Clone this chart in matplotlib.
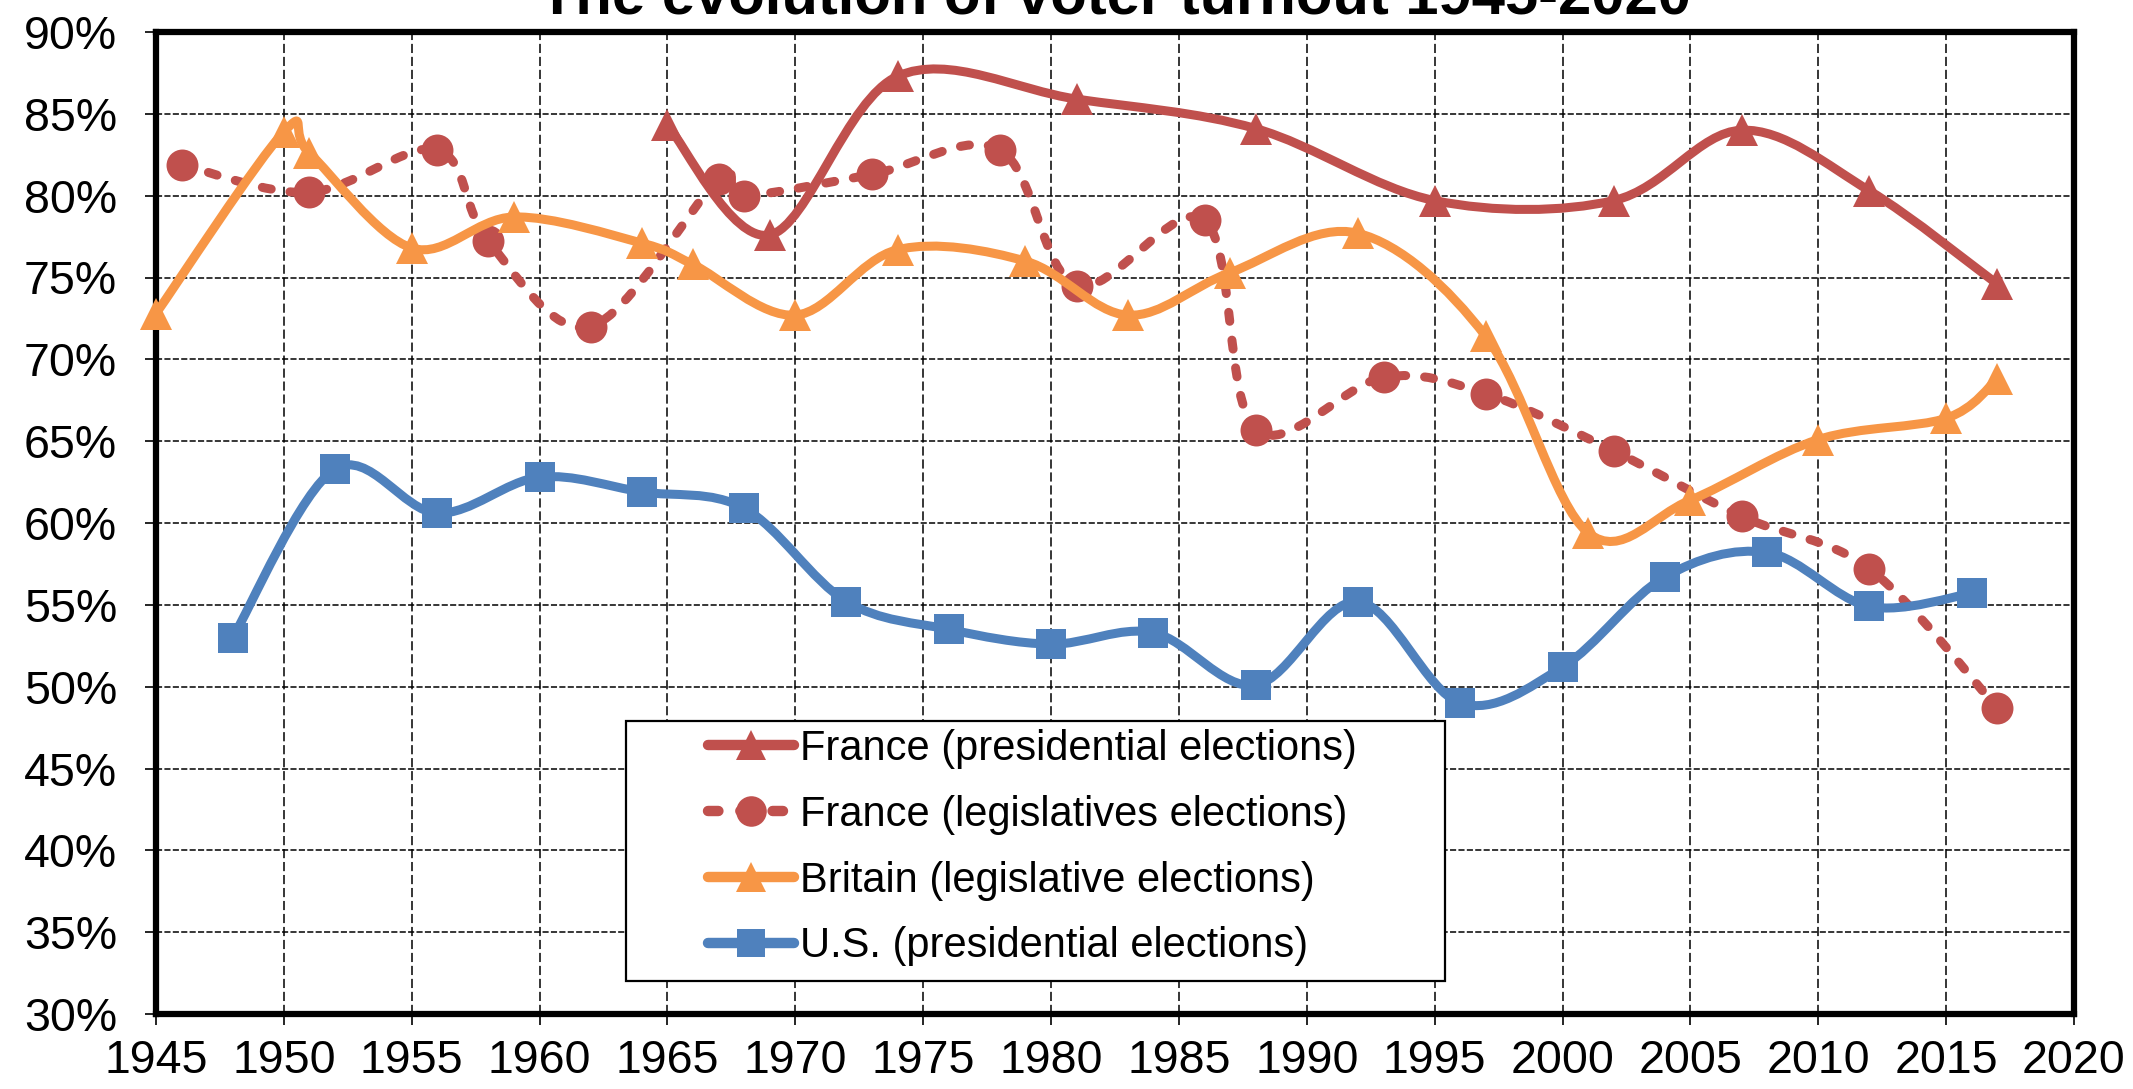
import numpy as np
import matplotlib
matplotlib.use("Agg")
import matplotlib.pyplot as plt
from matplotlib.path import Path
from matplotlib.patches import PathPatch, Rectangle
from matplotlib.lines import Line2D
from matplotlib.ticker import FuncFormatter, MultipleLocator

plt.rcParams['font.family'] = ['Liberation Sans', 'DejaVu Sans']

# ---------------- data ----------------
fr_pres_years = [1965, 1969, 1974, 1981, 1988, 1995, 2002, 2007, 2012, 2017]
fr_pres_vals = [84.3, 77.6, 87.3, 85.9, 84.1, 79.7, 79.7, 84.0, 80.3, 74.6]

fr_leg_years = [1946, 1951, 1956, 1958, 1962, 1967, 1968, 1973, 1978, 1981,
                1986, 1988, 1993, 1997, 2002, 2007, 2012, 2017]
fr_leg_vals = [81.9, 80.2, 82.8, 77.2, 72.0, 81.0, 80.0, 81.3, 82.8, 74.5,
               78.5, 65.7, 68.9, 67.9, 64.4, 60.4, 57.2, 48.7]

uk_years = [1945, 1950, 1951, 1955, 1959, 1964, 1966, 1970, 1974, 1979,
            1983, 1987, 1992, 1997, 2001, 2005, 2010, 2015, 2017]
uk_vals = [72.8, 83.9, 82.6, 76.8, 78.7, 77.1, 75.8, 72.7, 76.7, 76.0,
           72.7, 75.3, 77.7, 71.4, 59.4, 61.4, 65.1, 66.4, 68.8]

us_years = [1948, 1952, 1956, 1960, 1964, 1968, 1972, 1976, 1980, 1984,
            1988, 1992, 1996, 2000, 2004, 2008, 2012, 2016]
us_vals = [53.0, 63.3, 60.6, 62.8, 61.9, 60.9, 55.2, 53.5, 52.6, 53.3,
           50.1, 55.2, 49.0, 51.2, 56.7, 58.2, 54.9, 55.7]

labels = ["France (presidential elections)", "France (legislatives elections)",
          "Britain (legislative elections)", "U.S. (presidential elections)"]
title = "The evolution of voter turnout 1945-2020"

RED = "#C0504D"
ORANGE = "#F79646"
BLUE = "#4F81BD"

W, H = 2133, 1089
fig = plt.figure(figsize=(W / 100, H / 100), dpi=100)
L, R, T, B = 156, 2074, 32, 1014
ax = fig.add_axes([L / W, 1 - B / H, (R - L) / W, (B - T) / H])


def smooth_path(x, y, t=1.0 / 6.0):
    pts = np.column_stack([x, y]).astype(float)
    n = len(pts)
    verts = [pts[0]]
    codes = [Path.MOVETO]
    for i in range(n - 1):
        p0 = pts[i - 1] if i > 0 else pts[i]
        p1 = pts[i]
        p2 = pts[i + 1]
        p3 = pts[i + 2] if i + 2 < n else pts[i + 1]
        c1 = p1 + (p2 - p0) * t
        c2 = p2 - (p3 - p1) * t
        verts += [c1, c2, p2]
        codes += [Path.CURVE4] * 3
    return Path(verts, codes)


LW = 6.5
DASH = (0, (1.0, 2.1))

series = [
    (fr_pres_years, fr_pres_vals, RED, '^', '-', 23),
    (fr_leg_years, fr_leg_vals, RED, 'o', DASH, 23),
    (uk_years, uk_vals, ORANGE, '^', '-', 23),
    (us_years, us_vals, BLUE, 's', '-', 21.5),
]

z = 3
for xs, ys, col, mk, ls, ms in series:
    pp = PathPatch(smooth_path(xs, ys), fill=False, edgecolor=col, lw=LW,
                   linestyle=ls, capstyle='round', joinstyle='round',
                   transform=ax.transData, zorder=z)
    ax.add_patch(pp)
    ax.plot(xs, ys, linestyle='none', marker=mk, markersize=ms,
            markerfacecolor=col, markeredgecolor=col, markeredgewidth=0,
            clip_on=False, zorder=z + 0.5)
    z += 1

ax.set_xlim(1945, 2020)
ax.set_ylim(30, 90)
ax.xaxis.set_major_locator(MultipleLocator(5))
ax.yaxis.set_major_locator(MultipleLocator(5))
ax.yaxis.set_major_formatter(FuncFormatter(lambda v, p: f"{v:.0f}%"))

ax.xaxis.grid(True, color='black', linestyle=(0, (6, 2.5)), linewidth=1.1)
ax.yaxis.grid(True, color='black', linestyle=(0, (4, 1.5)), linewidth=1.1)
ax.set_axisbelow(True)

for s in ax.spines.values():
    s.set_linewidth(4.5)
    s.set_color('black')

ax.tick_params(axis='both', direction='out', length=8, width=1.2, color='black',
               labelsize=33.5)
ax.tick_params(axis='x', pad=10)
ax.tick_params(axis='y', pad=20)

# legend box
ax.add_patch(Rectangle((626 / W, 1 - 981 / H), (1445 - 626) / W, (981 - 721) / H,
                       transform=fig.transFigure, facecolor='white',
                       edgecolor='black', linewidth=1.6, zorder=20, clip_on=False))

handles = [
    Line2D([], [], color=RED, lw=LW + 1, marker='^', markersize=22,
           markeredgewidth=0, solid_capstyle='round'),
    Line2D([], [], color=RED, lw=LW + 1, marker='o', markersize=22,
           markeredgewidth=0, linestyle=DASH, dash_capstyle='round'),
    Line2D([], [], color=ORANGE, lw=LW + 1, marker='^', markersize=22,
           markeredgewidth=0, solid_capstyle='round'),
    Line2D([], [], color=BLUE, lw=LW + 1, marker='s', markersize=20,
           markeredgewidth=0, solid_capstyle='round'),
]
leg = ax.legend(handles, labels, loc='upper left',
                bbox_to_anchor=(708 / W, 1 - 729 / H), bbox_transform=fig.transFigure,
                frameon=False, fontsize=30, handlelength=2.06, handletextpad=0.15,
                labelspacing=0.62, borderpad=0, borderaxespad=0, numpoints=1)
leg.set_zorder(21)

fig.text(1115 / W, 1 - 14 / H, title, ha='center', va='baseline',
         fontsize=43, fontweight='bold')

fig.savefig("out.png", dpi=100)
